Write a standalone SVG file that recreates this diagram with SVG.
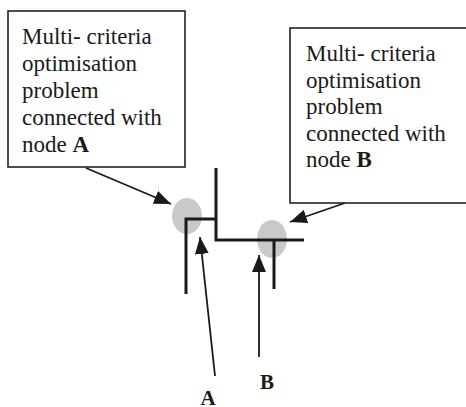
<svg xmlns="http://www.w3.org/2000/svg" width="466" height="407" viewBox="0 0 466 407">
  <style>
    .box { fill: #ffffff; stroke: #222222; stroke-width: 1.6; }
    .txt { font-family: "Liberation Serif", "Times New Roman", serif; font-size: 23px; fill: #1a1a1a; }
    .lbl { font-family: "Liberation Serif", "Times New Roman", serif; font-size: 21px; font-weight: bold; fill: #1a1a1a; }
    .wire { fill: none; stroke: #1a1a1a; stroke-width: 3; stroke-linecap: butt; stroke-linejoin: miter; }
    .arrow { fill: none; stroke: #1a1a1a; stroke-width: 1.8; marker-end: url(#head); }
    .spot { fill: #c9c9c9; }
  </style>
  <defs>
    <marker id="head" markerUnits="userSpaceOnUse" markerWidth="17" markerHeight="14" refX="17" refY="7" orient="auto">
      <path d="M0,0 L17,7 L0,14 z" fill="#1a1a1a"/>
    </marker>
  </defs>
  <rect width="466" height="407" fill="#ffffff"/>

  <g id="nodeA-box">
    <rect class="box" x="8" y="11" width="177" height="156"/>
    <text class="txt" x="22" y="44">Multi- criteria</text>
    <text class="txt" x="22" y="71">optimisation</text>
    <text class="txt" x="22" y="98">problem</text>
    <text class="txt" x="22" y="125">connected with</text>
    <text class="txt" x="22" y="152">node <tspan font-weight="bold">A</tspan></text>
  </g>

  <g id="nodeB-box">
    <rect class="box" x="290" y="28" width="200" height="175"/>
    <text class="txt" x="306" y="61">Multi- criteria</text>
    <text class="txt" x="306" y="87.5">optimisation</text>
    <text class="txt" x="306" y="114">problem</text>
    <text class="txt" x="306" y="140.5">connected with</text>
    <text class="txt" x="306" y="167">node <tspan font-weight="bold">B</tspan></text>
  </g>

  <g id="spotA">
    <ellipse class="spot" cx="187" cy="216" rx="15" ry="18"/>
  </g>
  <g id="spotB">
    <ellipse class="spot" cx="272" cy="239" rx="15" ry="19"/>
  </g>

  <g id="structure">
    <path class="wire" d="M216,168 L216,240 L304,240"/>
    <path class="wire" d="M274,240 L274,289"/>
    <path class="wire" d="M216,219 L186,219 L186,294"/>
  </g>

  <g id="labelA">
    <text class="lbl" x="208" y="405" text-anchor="middle">A</text>
  </g>
  <g id="labelB">
    <text class="lbl" x="267" y="389" text-anchor="middle">B</text>
  </g>

  <g id="connectors">
    <line class="arrow" x1="86" y1="168" x2="171" y2="204"/>
    <line class="arrow" x1="345" y1="203" x2="290" y2="222"/>
    <line class="arrow" x1="215" y1="376" x2="200" y2="237"/>
    <line class="arrow" x1="259" y1="357" x2="259" y2="255"/>
  </g>
</svg>
